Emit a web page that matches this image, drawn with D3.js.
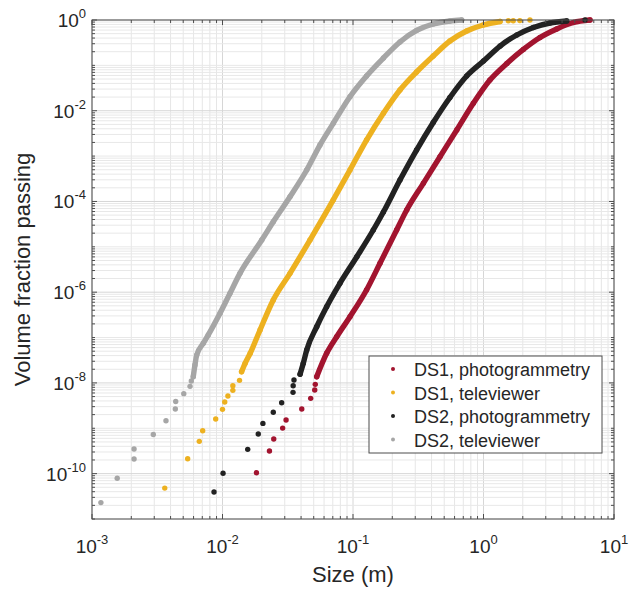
<!DOCTYPE html>
<html>
<head>
<meta charset="utf-8">
<script src="https://cdn.jsdelivr.net/npm/d3@7"></script>
<style>
  body { margin: 0; background: #fff; }
  text { font-family: Arial, "Liberation Sans", sans-serif; fill: #262626; }
</style>
</head>
<body>
<script>
// [size (m), volume fraction passing]
const redDots = [
  [1.82e-2, 1.05e-10], [2.29e-2, 3.15e-10], [2.47e-2, 5.79e-10], [2.89e-2, 1.01e-9],
  [3.07e-2, 1.52e-9], [4.05e-2, 2.66e-9], [4.74e-2, 4.57e-9], [5.09e-2, 6.97e-9],
  [5.14e-2, 9.3e-9]
];
const redCurve = [
  [5.27e-2, 1.37e-8], [6.28e-2, 4.49e-8], [7.5e-2, 1.04e-7], [9.48e-2, 2.88e-7],
  [0.127, 1.12e-6], [0.161, 4.33e-6], [0.216, 2.35e-5], [0.258, 6.48e-5],
  [0.346, 2.51e-4], [0.464, 9.69e-4], [0.624, 3.76e-3], [0.836, 1.46e-2],
  [1.12, 4.75e-2], [1.51, 0.110], [2.02, 0.224], [2.71, 0.411],
  [3.64, 0.634], [4.88, 0.881], [6.55, 1.0]
];

const yellowDots = [
  [3.61e-3, 4.8e-11], [5.41e-3, 2.13e-10], [6.64e-3, 5.15e-10], [7.05e-3, 8.8e-10],
  [8.87e-3, 1.6e-9], [1.00e-2, 2.61e-9], [1.04e-2, 3.79e-9], [1.10e-2, 5.14e-9],
  [1.20e-2, 6.86e-9], [1.20e-2, 8.67e-9], [1.35e-2, 1.14e-8],
  [1.55, 0.96], [1.69, 0.965], [1.90, 0.97], [2.27, 1.0]
];
const yellowCurve = [
  [1.40e-2, 1.76e-8], [1.49e-2, 2.7e-8], [1.63e-2, 4.49e-8], [1.94e-2, 1.47e-7],
  [2.45e-2, 6.71e-7], [3.29e-2, 2.6e-6], [4.68e-2, 1.41e-5], [7.06e-2, 1.08e-4],
  [9.48e-2, 4.93e-4], [0.127, 2.26e-3], [0.171, 8.77e-3], [0.229, 2.86e-2],
  [0.307, 7.14e-2], [0.412, 0.161], [0.553, 0.344], [0.743, 0.572],
  [0.995, 0.776], [1.34, 0.927]
];

const blackDots = [
  [8.61e-3, 3.93e-11], [1.01e-2, 1.02e-10], [1.56e-2, 3.43e-10], [1.88e-2, 7.46e-10],
  [2.04e-2, 1.28e-9], [2.45e-2, 2.25e-9], [2.84e-2, 3.66e-9], [3.47e-2, 6.2e-9],
  [3.48e-2, 8.67e-9], [3.53e-2, 1.16e-8], [6.0, 1.0]
];
const blackCurve = [
  [3.93e-2, 1.55e-8], [4.16e-2, 2.7e-8], [4.42e-2, 5.31e-8], [5.27e-2, 1.73e-7],
  [6.28e-2, 4.78e-7], [7.94e-2, 1.57e-6], [0.107, 6.05e-6], [0.143, 2.35e-5],
  [0.171, 5.85e-5], [0.229, 2.97e-4], [0.307, 1.36e-3], [0.412, 5.5e-3],
  [0.553, 1.96e-2], [0.743, 5.83e-2], [1.0, 0.125], [1.34, 0.267],
  [1.80, 0.467], [2.41, 0.684], [3.23, 0.859], [4.34, 0.95]
];

const grayDots = [
  [1.17e-3, 2.3e-11], [1.56e-3, 7.9e-11], [2.10e-3, 2.1e-10], [2.10e-3, 3.5e-10],
  [2.95e-3, 7.3e-10], [3.69e-3, 1.47e-9], [4.35e-3, 2.65e-9], [4.38e-3, 3.9e-9],
  [5.05e-3, 5.8e-9], [5.64e-3, 8.4e-9], [5.77e-3, 1.1e-8]
];
const grayCurve = [
  [5.97e-3, 1.37e-8], [6.15e-3, 2.48e-8], [6.34e-3, 4.1e-8], [7.13e-3, 7.5e-8],
  [7.78e-3, 1.14e-7], [9.57e-3, 3.42e-7], [1.14e-2, 9.4e-7], [1.36e-2, 2.6e-6],
  [2.0e-2, 1.41e-5], [2.45e-2, 3.57e-5], [3.29e-2, 1.27e-4], [4.42e-2, 4.93e-4],
  [5.58e-2, 1.75e-3], [7.06e-2, 5.28e-3], [9.48e-2, 2.04e-2], [0.127, 5.83e-2],
  [0.171, 0.145], [0.229, 0.327], [0.307, 0.587], [0.412, 0.816],
  [0.553, 0.95], [0.681, 1.0]
];

const seriesNames = ["DS1, photogrammetry", "DS1, televiewer", "DS2, photogrammetry", "DS2, televiewer"];
const seriesColors = ["#a2142f", "#edb120", "#222222", "#a6a6a6"];
const xTickExp = [-3, -2, -1, 0, 1];
const yTickExp = [0, -2, -4, -6, -8, -10];

const series = [
  { dots: redDots, curve: redCurve },
  { dots: yellowDots, curve: yellowCurve },
  { dots: blackDots, curve: blackCurve },
  { dots: grayDots, curve: grayCurve }
];

const W = 629, H = 589;
const margin = { top: 20, right: 15, bottom: 70, left: 92 };
const width = W - margin.left - margin.right;
const height = H - margin.top - margin.bottom;

const x = d3.scaleLog().domain([1e-3, 10]).range([0, width]);
const y = d3.scaleLog().domain([1e-11, 1]).range([height, 0]);

var svg = d3.select("body").append("svg")
    .attr("width", W)
    .attr("height", H);

var g = svg.append("g")
    .attr("transform", `translate(${margin.left},${margin.top})`);

// minor + major values for grid / ticks
function logTicks(lo, hi) {
    var all = [];
    for (let e = lo; e < hi; e++) {
        for (let m = 1; m < 10; m++) all.push(m * Math.pow(10, e));
    }
    all.push(Math.pow(10, hi));
    return all;
}
const xAll = logTicks(-3, 1);
const yAll = logTicks(-11, 0);
const xMajor = xTickExp.map(e => Math.pow(10, e));
const yMajor = yTickExp.map(e => Math.pow(10, e));
const isMajorX = v => xMajor.some(m => Math.abs(Math.log10(v) - Math.log10(m)) < 1e-6);
const isMajorY = v => yMajor.some(m => Math.abs(Math.log10(v) - Math.log10(m)) < 1e-6);

// grid
var grid = g.append("g");
grid.selectAll(".gx")
    .data(xAll)
    .enter().append("line")
    .attr("x1", d => x(d)).attr("x2", d => x(d))
    .attr("y1", 0).attr("y2", height)
    .attr("stroke", d => isMajorX(d) ? "#d6d6d6" : "#e6e6e6")
    .attr("stroke-width", 1);
grid.selectAll(".gy")
    .data(yAll)
    .enter().append("line")
    .attr("y1", d => y(d)).attr("y2", d => y(d))
    .attr("x1", 0).attr("x2", width)
    .attr("stroke", d => isMajorY(d) ? "#d6d6d6" : "#e8e8e8")
    .attr("stroke-width", 1);

// data: dense part as a thick smooth stroke, every read point as a dot
var line = d3.line()
    .x(d => x(d[0]))
    .y(d => y(d[1]))
    .curve(d3.curveMonotoneX);

series.forEach((s, i) => {
    g.append("path")
        .datum(s.curve)
        .attr("d", line)
        .attr("fill", "none")
        .attr("stroke", seriesColors[i])
        .attr("stroke-width", 5.4)
        .attr("stroke-linejoin", "round")
        .attr("stroke-linecap", "round");

    g.append("g")
        .selectAll("circle")
        .data(s.dots.concat(s.curve))
        .enter().append("circle")
        .attr("cx", d => x(d[0]))
        .attr("cy", d => y(d[1]))
        .attr("r", 2.7)
        .attr("fill", seriesColors[i]);
});

// box + inward ticks on all four sides
var frame = g.append("g").attr("stroke", "#4d4d4d").attr("stroke-width", 1);
frame.append("rect")
    .attr("x", 0).attr("y", 0)
    .attr("width", width).attr("height", height)
    .attr("fill", "none");

xAll.forEach(v => {
    var len = isMajorX(v) ? 5 : 3;
    frame.append("line").attr("x1", x(v)).attr("x2", x(v)).attr("y1", height).attr("y2", height - len);
    frame.append("line").attr("x1", x(v)).attr("x2", x(v)).attr("y1", 0).attr("y2", len);
});
yAll.forEach(v => {
    var len = isMajorY(v) ? 5 : 3;
    frame.append("line").attr("y1", y(v)).attr("y2", y(v)).attr("x1", 0).attr("x2", len);
    frame.append("line").attr("y1", y(v)).attr("y2", y(v)).attr("x1", width).attr("x2", width - len);
});

// tick labels 10^n
xTickExp.forEach(e => {
    var t = g.append("text")
        .attr("x", x(Math.pow(10, e)))
        .attr("y", height + 34)
        .attr("text-anchor", "middle")
        .style("font-size", "19px");
    t.append("tspan").text("10");
    t.append("tspan").attr("dy", -9).style("font-size", "13px").text(e < 0 ? "-" + (-e) : e);
});
yTickExp.forEach(e => {
    var t = g.append("text")
        .attr("x", -6)
        .attr("y", y(Math.pow(10, e)) + 7)
        .attr("text-anchor", "end")
        .style("font-size", "19px");
    t.append("tspan").text("10");
    t.append("tspan").attr("dy", -9).style("font-size", "13px").text(e < 0 ? "-" + (-e) : e);
});

// axis titles
g.append("text")
    .attr("x", width / 2)
    .attr("y", height + 63)
    .attr("text-anchor", "middle")
    .style("font-size", "22px")
    .text("Size (m)");
g.append("text")
    .attr("transform", `translate(${-62},${height / 2}) rotate(-90)`)
    .attr("text-anchor", "middle")
    .style("font-size", "22px")
    .text("Volume fraction passing");

// legend, lower right inside the axes
const legW = 233, legH = 97;
var legend = g.append("g")
    .attr("transform", `translate(${width - 12 - legW},${height - 163})`);
legend.append("rect")
    .attr("width", legW).attr("height", legH)
    .attr("fill", "#fff")
    .attr("stroke", "#4d4d4d")
    .attr("stroke-width", 1);
seriesNames.forEach((name, i) => {
    legend.append("circle")
        .attr("cx", 24).attr("cy", 13 + i * 23.5)
        .attr("r", 2)
        .attr("fill", seriesColors[i]);
    legend.append("text")
        .attr("x", 45).attr("y", 20 + i * 23.5)
        .style("font-size", "18px")
        .text(name);
});
</script>
</body>
</html>
